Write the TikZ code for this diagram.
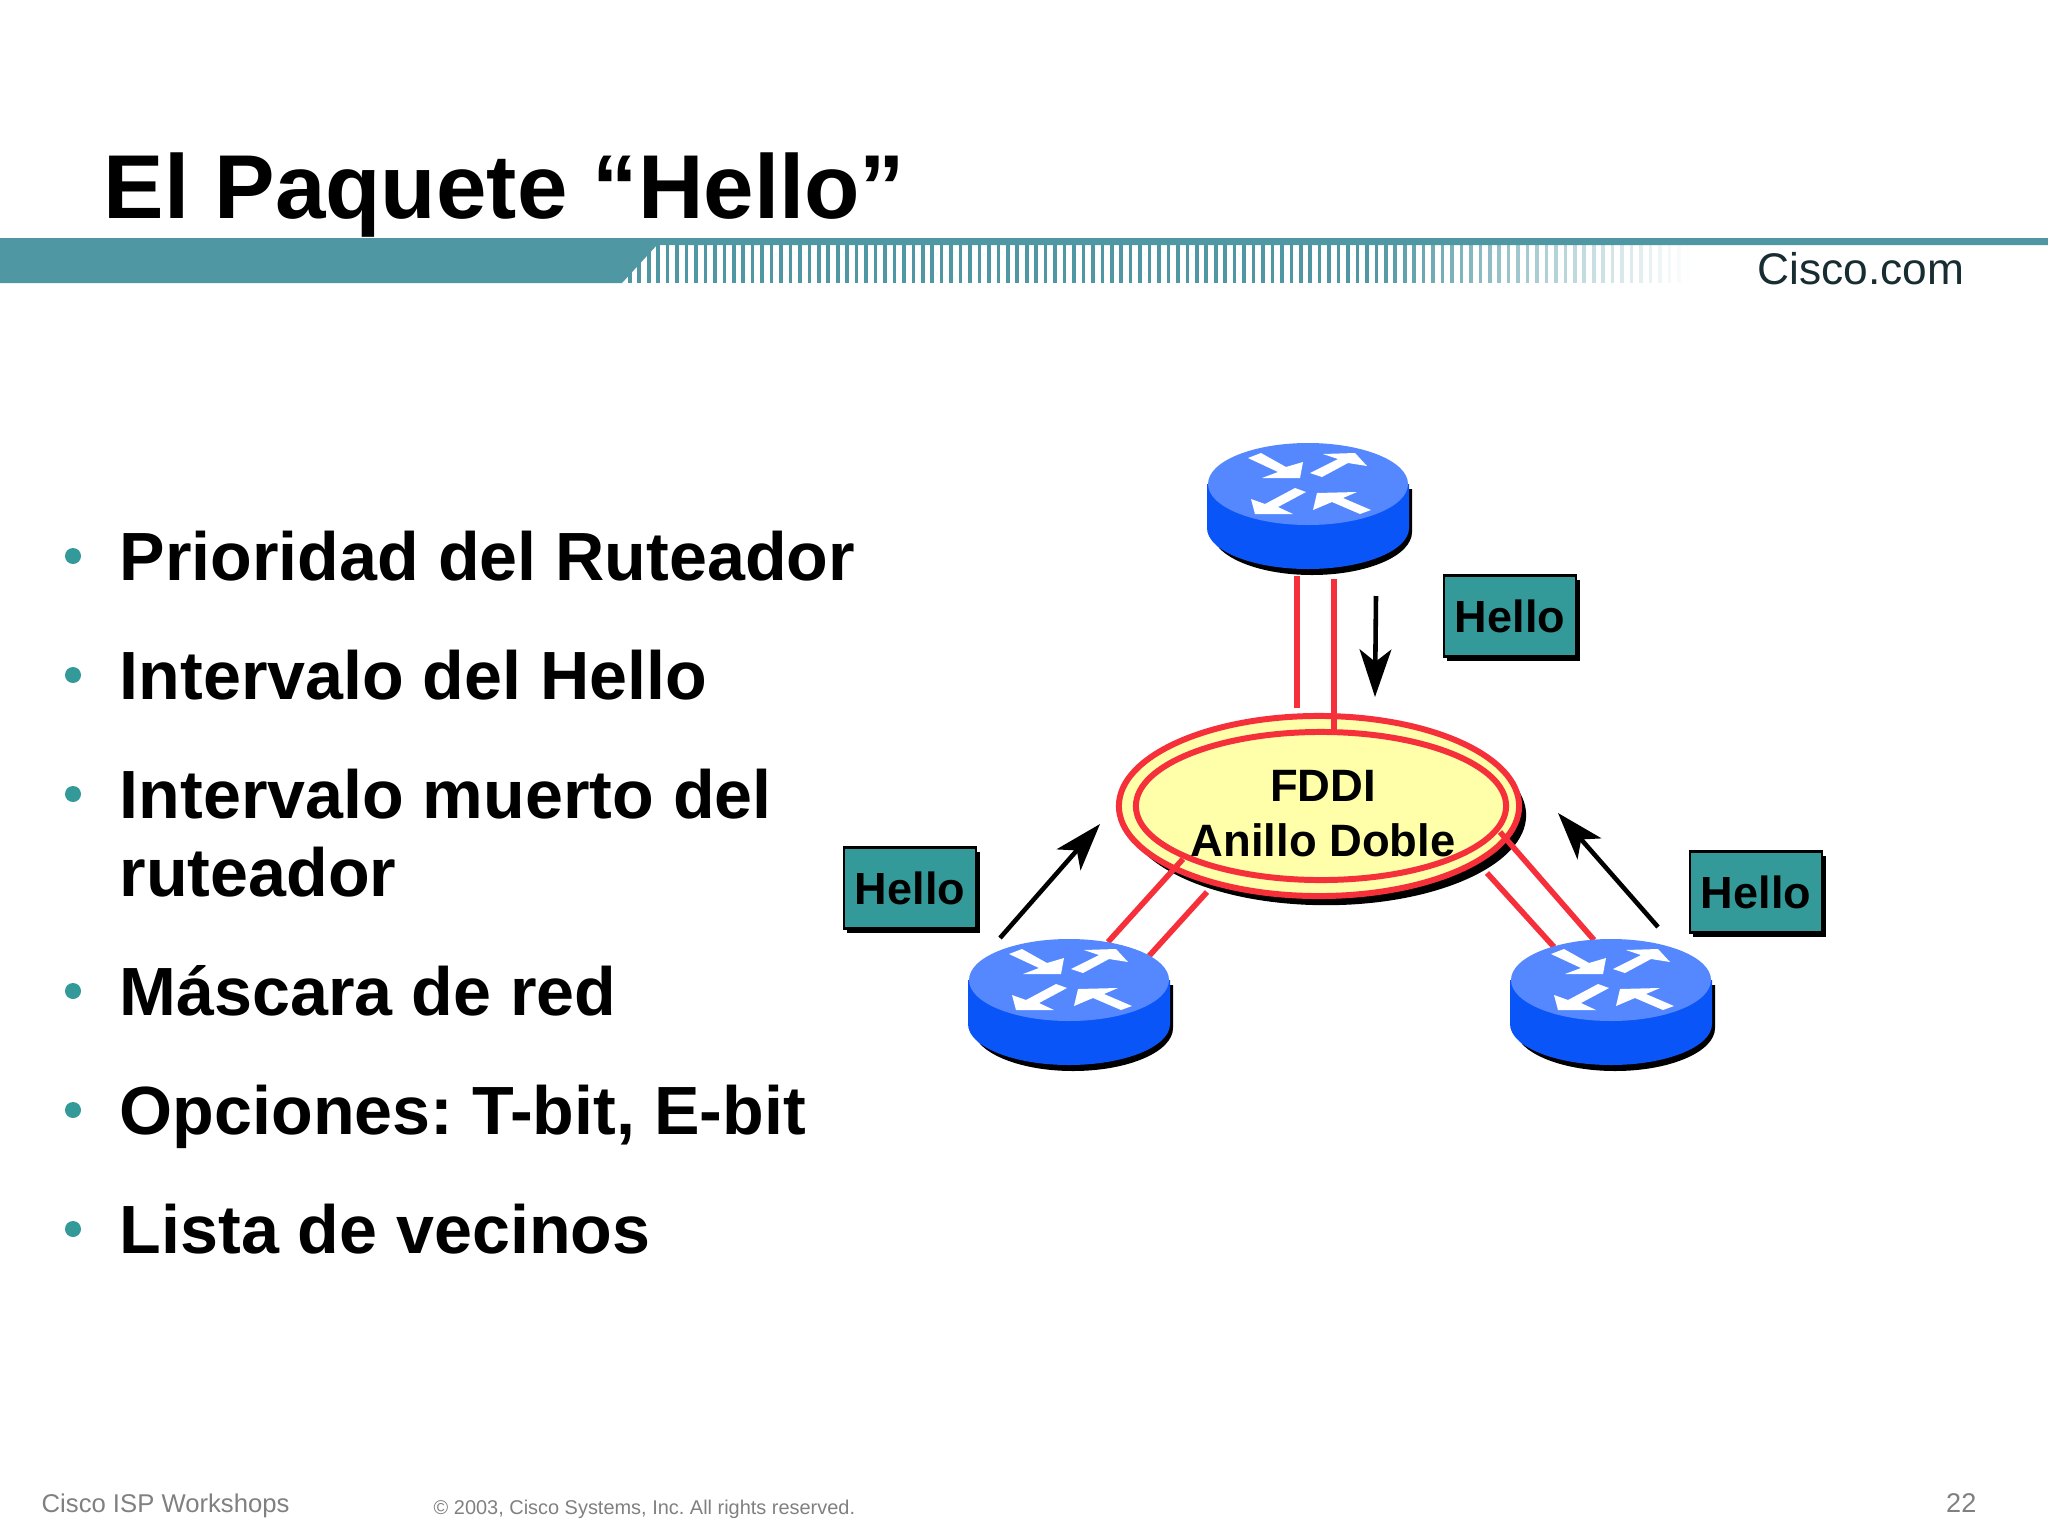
\documentclass[tikz,border=0pt]{standalone}
\usepackage{fontspec}
\setmainfont{Liberation Sans}
\usetikzlibrary{arrows.meta,calc,shapes,shadows}
\definecolor{bandteal}{HTML}{4F97A3}
\definecolor{boxteal}{HTML}{339999}
\definecolor{routertop}{HTML}{5588FF}
\definecolor{routerside}{HTML}{0A55F8}
\definecolor{ringred}{HTML}{F5303A}
\definecolor{ringfill}{HTML}{FFFFAA}
\tikzset{
    hellobox/.style = {draw, rectangle, fill=boxteal, line width=.6pt,
        minimum height=.81cm, minimum width=1.32cm, inner sep=0pt,
        font=\fontsize{12.8}{15}\selectfont\bfseries,
        drop shadow={shadow xshift=1pt,shadow yshift=-1.2pt,fill=black,opacity=1}},
    ringout/.style = {draw=ringred, ellipse, fill=ringfill, line width=1.7pt,
        minimum height=1.8cm, minimum width=4cm,
        drop shadow={shadow xshift=2pt,shadow yshift=-2.6pt,fill=black,opacity=1}},
    ringin/.style = {draw=ringred, ellipse, line width=1.7pt,
        minimum height=1.48cm, minimum width=3.7cm},
    ringtext/.style = {align=center, font=\fontsize{12.9}{15.6}\selectfont\bfseries},
    redline/.style = {draw=ringred, line width=1.6pt},
    msgarrow/.style = {draw, line width=1.3pt, -{Stealth[length=13.5pt,width=9pt,inset=3.5pt]}},
    bullet/.style = {circle, fill=boxteal, minimum size=.16cm, inner sep=0pt},
    item/.style = {anchor=base west, inner sep=0pt, font=\fontsize{19.4}{23}\selectfont\bfseries},
    foot/.style = {inner sep=0pt, text=black!50},
    router/.pic = {
        \path [fill=black] (-96,5) -- (-96,48) arc [start angle=180,end angle=0,x radius=100,y radius=43] -- (104,5) -- cycle;
        \path [fill=routerside] (-101,0) -- (-101,44) arc [start angle=180,end angle=0,x radius=101,y radius=41] -- (101,0) -- cycle;
        \path [fill=routertop] (0,0) ellipse [x radius=100,y radius=41];
        \path [fill=white] (-60,-26) -- (-47,-31) -- (-22,-17) -- (-5,-22) -- (-8,-6) -- (-46,-6) -- (-30,-12) -- cycle;
        \path [fill=white] (2,-11) -- (14,-7) -- (40,-21) -- (59,-18) -- (47,-31) -- (15,-30) -- (30,-25) -- cycle;
        \path [fill=white] (-13,4) -- (-2,8) -- (-30,23) -- (-15,30) -- (-53,30) -- (-57,15) -- (-43,20) -- cycle;
        \path [fill=white] (9,9) -- (49,8) -- (35,14) -- (63,26) -- (52,30) -- (24,18) -- (5,26) -- cycle;
        \node [minimum width=2cm, minimum height=1.27cm, inner sep=0pt] (-r) at (0,22) {};
    }
}

\begin{document}
\frenchspacing
\begin{tikzpicture}[x=.01cm,y=-.01cm]
        \useasboundingbox (0,0) rectangle (2048,1536);
        % title and band
        \node [anchor=base west, inner sep=0pt, font=\fontsize{25.8}{30}\selectfont\bfseries] (title) at (103,218) {El Paquete “Hello”};
        \path [fill=bandteal] (0,238) -- (2048,238) -- (2048,245) -- (657,245) -- (622,283) -- (0,283) -- cycle;
        \foreach \sx [evaluate=\sx as \op using {min(100,max(0,(1690-\sx)/3.2))}] in {628,637.45,...,1690}
            \path [fill=bandteal, opacity=\op/100] (\sx,245) rectangle ++(3.6,38);
        \node [anchor=base west, inner sep=0pt, text=black!70!bandteal, font=\fontsize{12.6}{15}\selectfont] (cisco) at (1757,284) {Cisco.com};
        % bullets
        \node [item] (b1) at (119,580) {Prioridad del Ruteador};
        \node [item] (b2) at (119,699) {Intervalo del Hello};
        \node [item] (b3) at (119,818) {Intervalo muerto del};
        \node [item] (b3b) at (119,896) {ruteador};
        \node [item] (b4) at (119,1015) {Máscara de red};
        \node [item] (b5) at (119,1134) {Opciones: T-bit, E-bit};
        \node [item] (b6) at (119,1253) {Lista de vecinos};
        \node [bullet] (d1) at (73,556) {};
        \node [bullet] (d2) at (73,675) {};
        \node [bullet] (d3) at (73,794) {};
        \node [bullet] (d4) at (73,991) {};
        \node [bullet] (d5) at (73,1110) {};
        \node [bullet] (d6) at (73,1229) {};
        % ring
        \node [ringout] (ring) at (1319,806) {};
        \node [ringin] (ringi) at ($(ring)+(2,0)$) {};
        \node [ringtext] (fddi) at (1323,814) {FDDI\\Anillo Doble};
        % links first, routers go on top of them
        \coordinate (ctop) at (1308,506);
        \coordinate (cleft) at (1069,1003);
        \coordinate (cright) at (1611,1003);
        \draw [redline] ($(ctop)+(-11,70)$) -- ($(ring)+(-22,-98)$);
        \draw [redline] ($(ctop)+(26,73)$) -- ($(ring)+(15,-76)$);
        \draw [redline] ($(cleft)+(39,-61)$) -- ($(ring)+(-136,53)$);
        \draw [redline] ($(cleft)+(80,-47)$) -- ($(ring)+(-112,86)$);
        \draw [redline] ($(cright)+(-17,-63)$) -- ($(ring)+(181,26)$);
        \draw [redline] ($(cright)+(-57,-56)$) -- ($(ring)+(168,67)$);
        \pic (rtop) at (1308,484) {router};
        \pic (rleft) at (1069,980) {router};
        \pic (rright) at (1611,980) {router};
        % hello packets
        \node [hellobox] (htop) at (1510,616) {Hello};
        \node [hellobox] (hleft) at (910,888) {Hello};
        \node [hellobox] (hright) at (1756,892) {Hello};
        \draw [msgarrow] ($(rtop-r)+(68,90)$) -- ($(ring)+(56,-109)$);
        \draw [msgarrow] ($(rleft-r)+(-69,-64)$) -- ($(ring)+(-219,18)$);
        \draw [msgarrow] ($(rright-r)+(47,-75)$) -- ($(ring)+(239,7)$);
        % footer
        \node [foot, anchor=base west, font=\fontsize{7.3}{9}\selectfont] (workshops) at (41,1512) {Cisco ISP Workshops};
        \node [foot, anchor=base west, font=\fontsize{5.67}{7}\selectfont] (copy) at (433,1514) {© 2003, Cisco Systems, Inc. All rights reserved.};
        \node [foot, anchor=base east, font=\fontsize{7.7}{9}\selectfont] (page) at (1977,1512) {22};
    \end{tikzpicture}
\end{document}
